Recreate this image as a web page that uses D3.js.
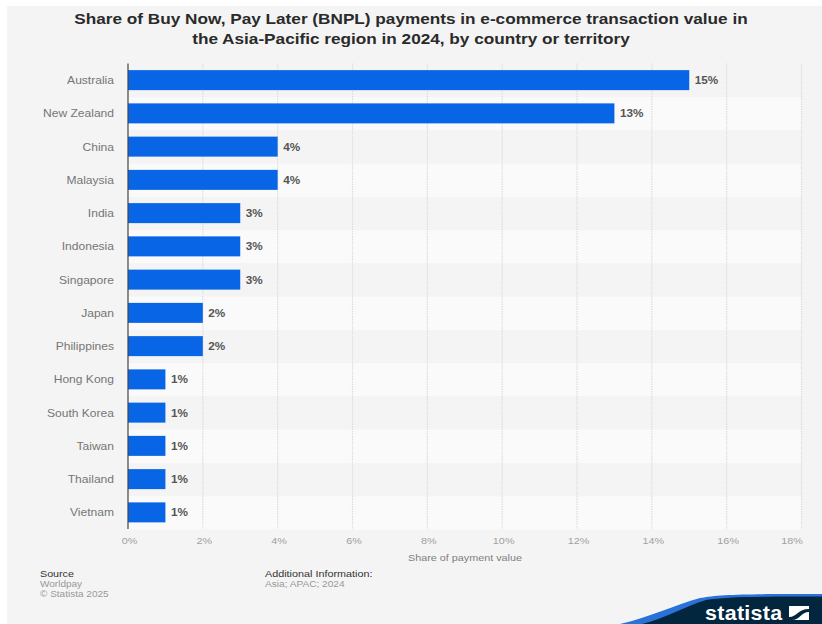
<!DOCTYPE html>
<html>
<head>
<meta charset="utf-8">
<script src="https://cdn.jsdelivr.net/npm/d3@7/dist/d3.min.js"></script>
<style>
html,body{margin:0;padding:0;background:#fff}
svg{display:block}
text{font-family:"Liberation Sans",Arial,sans-serif}
</style>
</head>
<body>
<svg id="chart" width="822" height="624"></svg>
<script>
const countries = ["Australia","New Zealand","China","Malaysia","India","Indonesia","Singapore","Japan","Philippines","Hong Kong","South Korea","Taiwan","Thailand","Vietnam"];
const shares = [15,13,4,4,3,3,3,2,2,1,1,1,1,1];
const xTicks = [0,2,4,6,8,10,12,14,16,18];
const titleLines = ["Share of Buy Now, Pay Later (BNPL) payments in e-commerce transaction value in","the Asia-Pacific region in 2024, by country or territory"];
const sourceLines = ["Worldpay","© Statista 2025"];
const infoLines = ["Asia; APAC; 2024"];

const svg = d3.select("#chart");
const wide = (sel, k) => sel.each(function(){
  // Horizontally widened lettering, anchored on the text's own x position
  const t = d3.select(this), x = +t.attr("x") || 0, y = +t.attr("y") || 0;
  t.attr("x",0).attr("y",0).attr("transform",`translate(${x},${y}) scale(${k},1)`);
});

svg.append("rect").attr("x",7).attr("y",6).attr("width",815).attr("height",618).attr("fill","#f4f4f4");

const x = d3.scaleLinear().domain([0,18]).range([128,801.5]);
const y = d3.scaleBand().domain(countries).range([64,529.5]).paddingInner(0).paddingOuter(0);
const barH = 20;

// Alternating row bands
svg.append("g").selectAll("rect").data(countries).join("rect")
  .attr("x",x(0)).attr("width",x(18)-x(0))
  .attr("y",d=>y(d)).attr("height",y.bandwidth())
  .attr("fill",(d,i)=>i%2?"#fafafa":"#f4f4f4");

// Dotted vertical gridlines
svg.append("g").selectAll("line").data(xTicks.slice(1)).join("line")
  .attr("x1",d=>x(d)).attr("x2",d=>x(d)).attr("y1",63.5).attr("y2",529)
  .attr("stroke","#dcdcdc").attr("stroke-width",1.2).attr("stroke-dasharray","1.5 1");

// Bars
svg.append("g").selectAll("rect").data(countries).join("rect")
  .attr("x",x(0)).attr("width",(d,i)=>x(shares[i])-x(0))
  .attr("y",d=>y(d)+y.bandwidth()/2-barH/2-0.5).attr("height",barH)
  .attr("fill","#0866e6");

// Baseline
svg.append("line").attr("x1",x(0)).attr("x2",x(0)).attr("y1",63.5).attr("y2",529)
  .attr("stroke","#444").attr("stroke-width",1.2);

// Category labels
svg.append("g").selectAll("text").data(countries).join("text")
  .attr("x",114).attr("y",d=>y(d)+y.bandwidth()/2+3.5)
  .attr("text-anchor","end").attr("font-size",10.5).attr("fill","#767676")
  .text(d=>d).call(wide,1.15);

// Value labels
svg.append("g").selectAll("text").data(countries).join("text")
  .attr("x",(d,i)=>x(shares[i])+5.5).attr("y",d=>y(d)+y.bandwidth()/2+3.5)
  .attr("font-size",10.5).attr("font-weight","bold").attr("fill","#555")
  .text((d,i)=>shares[i]+"%").call(wide,1.12);

// Horizontal axis tick labels
svg.append("g").selectAll("text").data(xTicks).join("text")
  .attr("x",d=>d===18?x(d)-9.5:x(d)+1.5).attr("y",544)
  .attr("text-anchor","middle").attr("font-size",9).attr("fill","#a0a0a0")
  .text(d=>d+"%").call(wide,1.2);

svg.append("text").attr("x",465).attr("y",561).attr("text-anchor","middle")
  .attr("font-size",9).attr("fill","#808080").text("Share of payment value").call(wide,1.2);

// Title
svg.append("g").selectAll("text").data(titleLines).join("text")
  .attr("x",411).attr("y",(d,i)=>24+i*20)
  .attr("text-anchor","middle").attr("font-size",14.5).attr("font-weight","bold").attr("fill","#2a2a2a")
  .text(d=>d).call(wide,1.186);

// Source block
svg.append("text").attr("x",40).attr("y",577).attr("font-size",9).attr("fill","#333").text("Source").call(wide,1.19);
svg.append("g").selectAll("text").data(sourceLines).join("text")
  .attr("x",40).attr("y",(d,i)=>587+i*10).attr("font-size",8.5).attr("fill","#999").text(d=>d).call(wide,1.18);

svg.append("text").attr("x",265).attr("y",577).attr("font-size",9).attr("fill","#333").text("Additional Information:").call(wide,1.2);
svg.append("g").selectAll("text").data(infoLines).join("text")
  .attr("x",265).attr("y",587).attr("font-size",8.5).attr("fill","#999").text(d=>d).call(wide,1.19);

// Footer wave with wordmark
svg.append("path").attr("d","M620 624 C650 617 675 605 700 598 C720 594 750 594 822 594 L822 624 Z").attr("fill","#2a72d8");
svg.append("path").attr("d","M642 624 C667 618 685 606 706 600 C726 596.5 760 596.5 822 596.5 L822 624 Z").attr("fill","#03263f");
svg.append("text").attr("x",705).attr("y",619.5).attr("font-size",20).attr("font-weight","bold").attr("fill","#fff").attr("letter-spacing",0.3).text("statista").call(wide,1.07);
const logo = svg.append("g").attr("transform","translate(789,606)");
logo.append("rect").attr("width",20).attr("height",14).attr("fill","#fff");
logo.append("path").attr("d","M0 11 C8 11 9 3 20 3 L20 6 C12 6 11 14 3 14 L0 14 Z").attr("fill","#03263f");
</script>
</body>
</html>
